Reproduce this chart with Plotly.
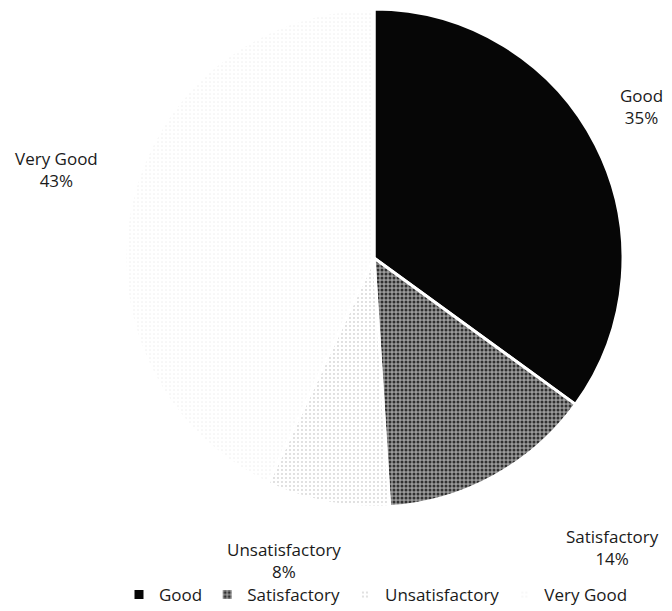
import math
import plotly.graph_objects as go

categories = ["Good", "Satisfactory", "Unsatisfactory", "Very Good"]
shares = [35, 14, 8, 43]

colors = ["#060606", "#9a9a9a", "#ffffff", "#ffffff"]
pattern_shapes = ["", ".", ".", "."]
pattern_fg = ["#000000", "#303030", "#a8a8a8", "#c8c8c8"]
pattern_solidity = [0.3, 0.45, 0.08, 0.04]

W, H = 672, 611
CX, CY, R = 366, 250, 249   # pie centre / radius in figure pixels
LABEL_R = 318
# per-label nudges (px) from the radial position, mimicking the source layout
LABEL_NUDGE = [(-16, -7), (85, 11), (-30, -10), (-7, -19)]
FONT = "Open Sans, Liberation Sans, sans-serif"

fig = go.Figure(go.Pie(
    labels=categories,
    values=shares,
    sort=False,
    direction="clockwise",
    rotation=0,
    textinfo="none",
    marker=dict(
        colors=colors,
        line=dict(color="#ffffff", width=3),
        pattern=dict(shape=pattern_shapes, fgcolor=pattern_fg, bgcolor=colors,
                     solidity=pattern_solidity, size=4),
    ),
    domain=dict(x=[(CX - R) / W, (CX + R) / W], y=[1 - (CY + R) / H, 1 - (CY - R) / H]),
    hoverinfo="label+percent",
))

total = sum(shares)
cum = 0
for (name, v), (ndx, ndy) in zip(zip(categories, shares), LABEL_NUDGE):
    mid = (cum + v / 2) / total * 2 * math.pi
    cum += v
    px = CX + LABEL_R * math.sin(mid) + ndx
    py = CY - LABEL_R * math.cos(mid) + ndy
    fig.add_annotation(
        x=px / W, y=1 - py / H, xref="paper", yref="paper",
        text=f"{name}<br>{round(v / total * 100)}%",
        showarrow=False, align="center", xanchor="center", yanchor="middle",
        font=dict(family=FONT, size=17, color="#1a1a1a"),
    )

fig.update_layout(
    width=W, height=H,
    margin=dict(l=0, r=0, t=0, b=0),
    paper_bgcolor="white",
    plot_bgcolor="white",
    showlegend=True,
    legend=dict(orientation="h", x=368 / W, xanchor="center",
                y=1 - 587 / H, yanchor="middle",
                font=dict(family=FONT, size=17, color="#1a1a1a"),
                itemwidth=30, traceorder="normal"),
)

fig.write_html("out.html")
